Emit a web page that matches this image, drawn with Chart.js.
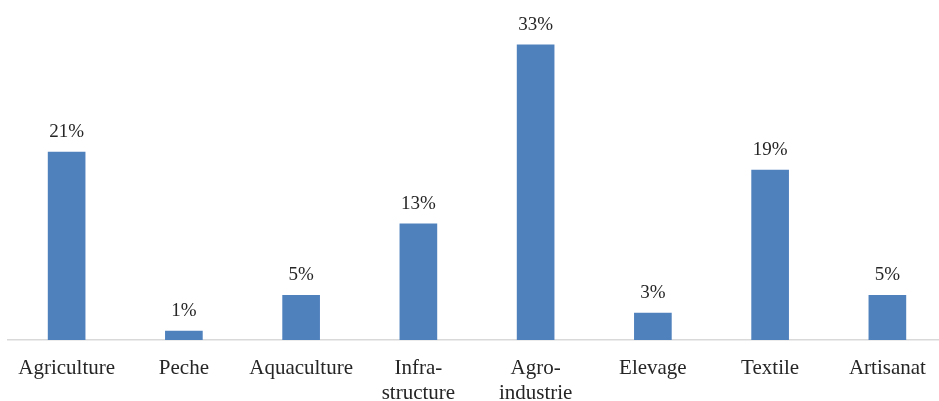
<!DOCTYPE html>
<html>
<head>
<meta charset="utf-8">
<script src="https://cdn.jsdelivr.net/npm/chart.js@4/dist/chart.umd.min.js"></script>
<style>
html,body{margin:0;padding:0;background:#fff;overflow:hidden;}
#wrap{position:relative;width:946px;height:401px;}
</style>
</head>
<body>
<div id="wrap"><canvas id="c"></canvas></div>
<script>
const categories = ['Agriculture', 'Peche', 'Aquaculture', ['Infra-', 'structure'], ['Agro-', 'industrie'], 'Elevage', 'Textile', 'Artisanat'];
const values = [21, 1, 5, 13, 33, 3, 19, 5];
const valueLabels = ['21%', '1%', '5%', '13%', '33%', '3%', '19%', '5%'];

const FONT = "'Liberation Serif', 'DejaVu Serif', serif";

const labelPlugin = {
  id: 'valueLabels',
  afterDatasetsDraw(chart) {
    const ctx = chart.ctx;
    const meta = chart.getDatasetMeta(0);
    ctx.save();
    ctx.font = "19px " + FONT;
    ctx.fillStyle = '#262626';
    ctx.textAlign = 'center';
    ctx.textBaseline = 'alphabetic';
    meta.data.forEach((bar, i) => {
      ctx.fillText(valueLabels[i], bar.x, bar.y - 15);
    });
    ctx.restore();
  }
};

new Chart(document.getElementById('c'), {
  type: 'bar',
  data: {
    labels: categories,
    datasets: [{
      data: values,
      backgroundColor: '#4F81BD',
      borderWidth: 0,
      barThickness: 37
    }]
  },
  options: {
    responsive: true,
    maintainAspectRatio: false,
    animation: false,
    layout: { padding: { left: 8, right: 0, top: 27, bottom: 0 } },
    plugins: { legend: { display: false }, tooltip: { enabled: false } },
    scales: {
      x: {
        grid: { display: false, drawTicks: false },
        border: { display: true, color: '#d9d9d9', width: 1.5 },
        afterFit(scale) { scale.height = 61; },
        ticks: {
          color: '#262626',
          font: { family: FONT, size: 21, lineHeight: 1.2 },
          padding: 16,
          maxRotation: 0,
          autoSkip: false
        }
      },
      y: {
        display: false,
        min: 0,
        max: 35
      }
    }
  },
  plugins: [labelPlugin]
});
</script>
</body>
</html>
